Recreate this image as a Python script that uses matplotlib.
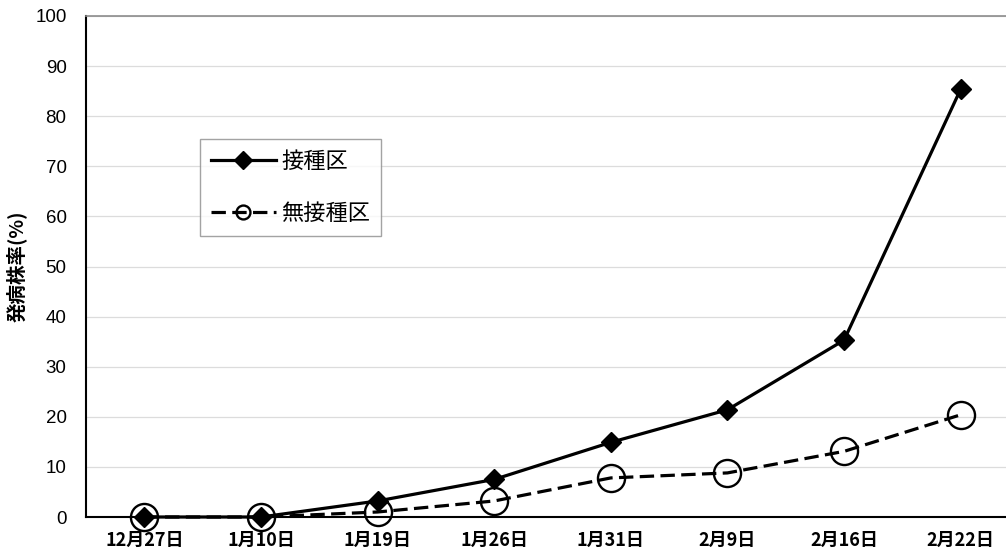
import matplotlib
matplotlib.use("Agg")
import matplotlib.pyplot as plt
from matplotlib.lines import Line2D

plt.rcParams['font.family'] = ['Noto Sans CJK JP', 'DejaVu Sans']

# データ
dates = ["12月27日", "1月10日", "1月19日", "1月26日", "1月31日", "2月9日", "2月16日", "2月22日"]
inoculated = [0, 0, 3.2, 7.5, 14.9, 21.4, 35.3, 85.4]
non_inoculated = [0, 0, 1.0, 3.2, 7.8, 8.8, 13.1, 20.4]
yticks = list(range(0, 101, 10))

fig = plt.figure(figsize=(10.06, 5.57), dpi=100)
ax = fig.add_axes([86 / 1006, 40 / 557, 933 / 1006, 501 / 557])

x = list(range(len(dates)))
dash = (0, (4.5, 2.0))
ax.plot(x, inoculated, color='black', lw=2.3, marker='D', markersize=10,
        markerfacecolor='black', markeredgecolor='black', zorder=3, clip_on=False)
ax.plot(x, non_inoculated, color='black', lw=2.3, ls=dash, marker='o',
        markersize=19.5, markerfacecolor='none', markeredgecolor='black',
        markeredgewidth=1.7, zorder=4, clip_on=False)

ax.set_xlim(-0.5, len(dates) - 0.5)
ax.set_ylim(0, 100)
ax.set_yticks(yticks)
ax.set_xticks(x)
ax.set_xticklabels(dates, fontsize=13, fontweight='bold')
ax.set_yticklabels([str(v) for v in yticks], fontsize=13.5, family='Liberation Sans')
ax.tick_params(axis='x', length=0, pad=10)
ax.tick_params(axis='y', length=0, pad=14)

ax.yaxis.grid(True, color='#dcdcdc', lw=0.9)
ax.set_axisbelow(True)
ax.spines['right'].set_visible(False)
ax.spines['top'].set_color('#8c8c8c')
ax.spines['top'].set_linewidth(1.2)
ax.spines['left'].set_linewidth(1.5)
ax.spines['bottom'].set_linewidth(1.5)

ax.set_ylabel("発病株率(%)", fontsize=14, fontweight='bold', labelpad=6)

# 凡例
handles = [
    Line2D([], [], color='black', lw=2.3, marker='D', markersize=9),
    Line2D([], [], color='black', lw=2.3, ls=dash, marker='o', markersize=10,
           markerfacecolor='none', markeredgewidth=1.7),
]
leg = ax.legend(handles, ["接種区", "無接種区"], loc='upper left',
                bbox_to_anchor=(200 / 1006, 1 - 139 / 557), bbox_transform=fig.transFigure,
                fontsize=16, frameon=True, fancybox=False, edgecolor='#8c8c8c',
                handlelength=2.9, handletextpad=0.25, labelspacing=1.3,
                borderpad=0.5, borderaxespad=0)
leg.get_frame().set_linewidth(1.0)

plt.savefig('out.png', dpi=100)
